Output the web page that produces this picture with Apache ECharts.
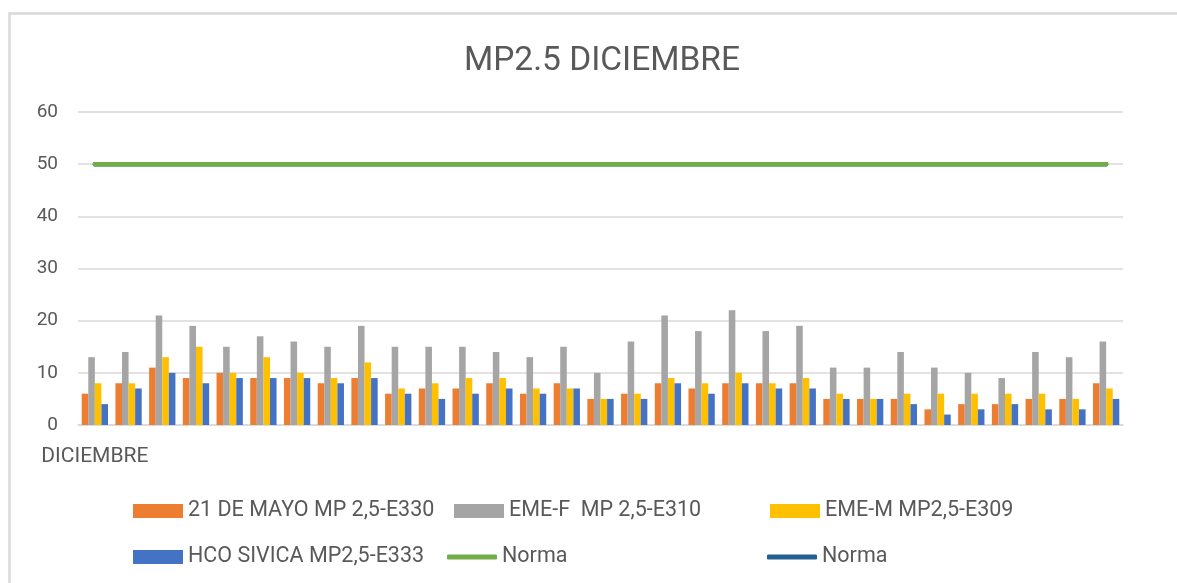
<!DOCTYPE html>
<html>
<head>
<meta charset="utf-8">
<script src="https://cdn.jsdelivr.net/npm/echarts@6/dist/echarts.min.js"></script>
<style>
html,body{margin:0;padding:0;background:#fff;}
#chart{width:1177px;height:583px;}
</style>
</head>
<body>
<div id="chart"></div>
<script>
const title = 'MP2.5 DICIEMBRE';
const days = ['1','2','3','4','5','6','7','8','9','10','11','12','13','14','15','16','17','18','19','20','21','22','23','24','25','26','27','28','29','30','31'];
const xGroupLabel = 'DICIEMBRE';
const seriesNames = ['21 DE MAYO MP 2,5-E330', 'EME-F  MP 2,5-E310', 'EME-M MP2,5-E309', 'HCO SIVICA MP2,5-E333', 'Norma', 'Norma '];
const mayo21 = [6,8,11,9,10,9,9,8,9,6,7,7,8,6,8,5,6,8,7,8,8,8,5,5,5,3,4,4,5,5,8];
const emeF   = [13,14,21,19,15,17,16,15,19,15,15,15,14,13,15,10,16,21,18,22,18,19,11,11,14,11,10,9,14,13,16];
const emeM   = [8,8,13,15,10,13,10,9,12,7,8,9,9,7,7,5,6,9,8,10,8,9,6,5,6,6,6,6,6,5,7];
const hco    = [4,7,10,8,9,9,9,8,9,6,5,6,7,6,7,5,5,8,6,8,7,7,5,5,4,2,3,4,3,3,5];
const norma  = [50,50,50,50,50,50,50,50,50,50,50,50,50,50,50,50,50,50,50,50,50,50,50,50,50,50,50,50,50,50,50];
const norma2 = [50,50,50,50,50,50,50,50,50,50,50,50,50,50,50,50,50,50,50,50,50,50,50,50,50,50,50,50,50,50,50];
const yTicks = {min: 0, max: 60, interval: 10};

const colors = ['#ED7D31', '#A5A5A5', '#FFC000', '#4472C4', '#70AD47', '#255E91'];
const FONT = 'Roboto';
const TXT = '#595959';

function legendFor(name, left, top, isLine) {
  return {
    show: true,
    left: left, top: top,
    padding: 0,
    orient: 'horizontal',
    itemWidth: 50,
    itemHeight: isLine ? 5 : 14,
    itemGap: 0,
    selectedMode: false,
    data: [{name: name, icon: isLine ? 'roundRect' : 'rect'}],
    textStyle: {fontFamily: FONT, fontSize: 21.5, color: TXT}
  };
}

const chart = echarts.init(document.getElementById('chart'), null, {renderer: 'canvas'});
const barBase = {type: 'bar', barGap: '0%', barCategoryGap: '22%', animation: false};
chart.setOption({
  animation: false,
  color: colors,
  title: {
    text: title,
    left: 597, top: 40,
    textAlign: 'center',
    textStyle: {fontFamily: FONT, fontSize: 33.5, fontWeight: 'normal', color: TXT}
  },
  graphic: [{
    type: 'rect', silent: true,
    shape: {x: 9.5, y: 13.5, width: 1300, height: 700},
    style: {fill: 'none', stroke: '#D9D9D9', lineWidth: 2.5}
  }],
  legend: [
    legendFor(seriesNames[0], 133, 500, false),
    legendFor(seriesNames[1], 454, 500, false),
    legendFor(seriesNames[2], 770, 500, false),
    legendFor(seriesNames[3], 133, 546, false),
    legendFor(seriesNames[4], 447, 546, true),
    legendFor(seriesNames[5], 767, 546, true)
  ],
  grid: {left: 78, right: 54, top: 112, bottom: 158, containLabel: false},
  xAxis: {
    type: 'category',
    data: days,
    axisLine: {lineStyle: {color: '#D9D9D9', width: 1.5}},
    axisTick: {show: false},
    axisLabel: {
      interval: 0, margin: 21,
      fontFamily: FONT, fontSize: 21, color: TXT,
      formatter: function (v, i) { return i === 0 ? xGroupLabel : ''; }
    }
  },
  yAxis: {
    type: 'value',
    min: yTicks.min, max: yTicks.max, interval: yTicks.interval,
    axisLine: {show: false},
    axisTick: {show: false},
    splitLine: {lineStyle: {color: '#D9D9D9', width: 1.5}},
    axisLabel: {margin: 20, fontFamily: FONT, fontSize: 19, color: TXT}
  },
  series: [
    Object.assign({}, barBase, {name: seriesNames[0], data: mayo21, itemStyle: {color: colors[0]}}),
    Object.assign({}, barBase, {name: seriesNames[1], data: emeF, itemStyle: {color: colors[1]}}),
    Object.assign({}, barBase, {name: seriesNames[2], data: emeM, itemStyle: {color: colors[2]}}),
    Object.assign({}, barBase, {name: seriesNames[3], data: hco, itemStyle: {color: colors[3]}}),
    {name: seriesNames[5], type: 'line', data: norma2, symbol: 'none', z: 3,
     lineStyle: {color: colors[5], width: 4.5, cap: 'round'}, itemStyle: {color: colors[5]}},
    {name: seriesNames[4], type: 'line', data: norma, symbol: 'none', z: 4,
     lineStyle: {color: colors[4], width: 4.5, cap: 'round'}, itemStyle: {color: colors[4]}}
  ]
});
</script>
</body>
</html>
